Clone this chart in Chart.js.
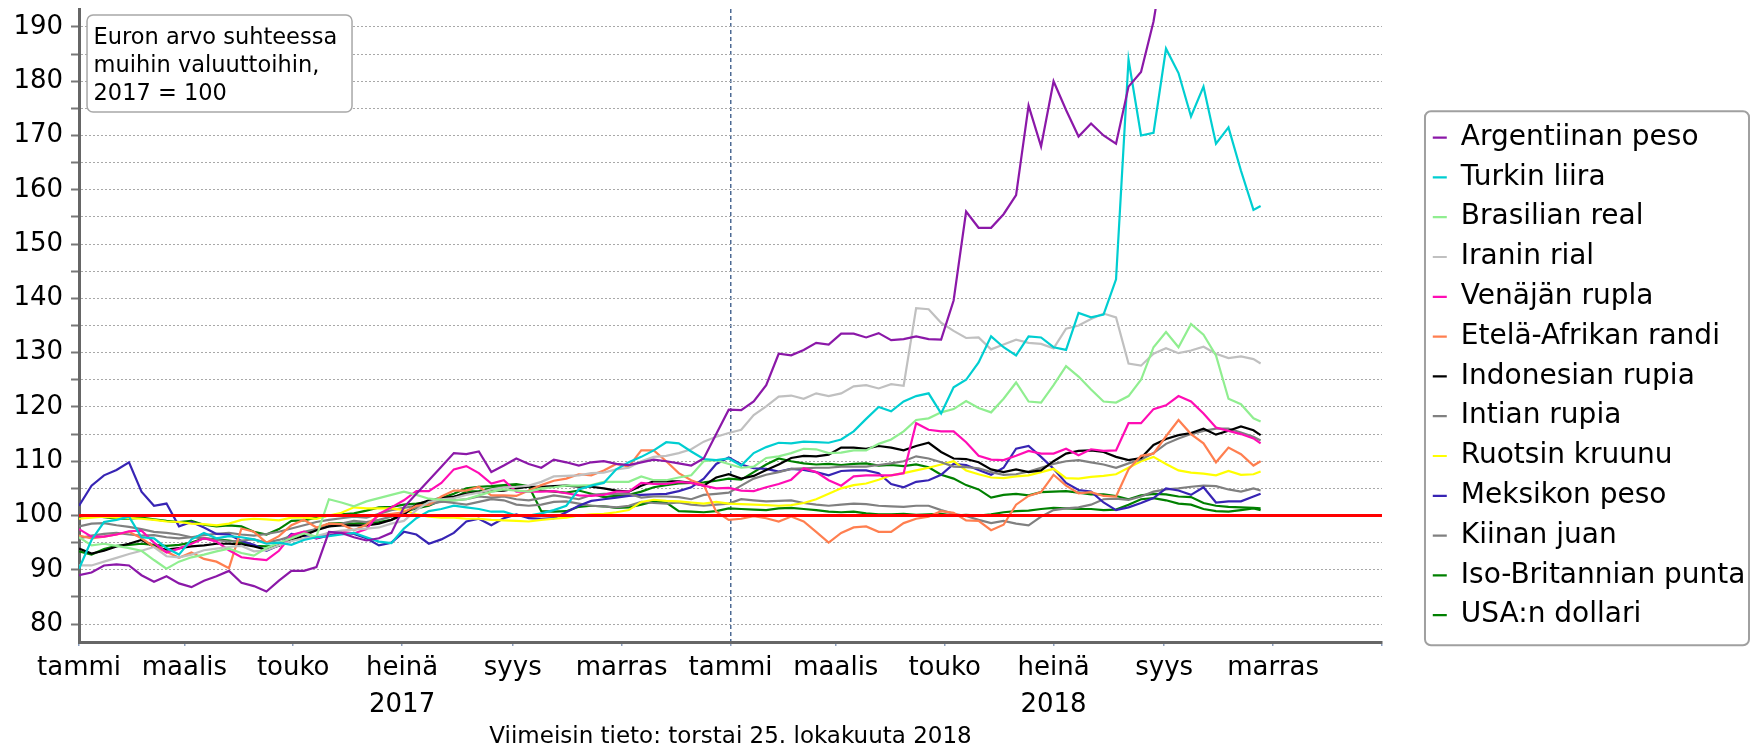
<!DOCTYPE html>
<html lang="fi">
<head>
<meta charset="utf-8">
<title>Euron arvo suhteessa muihin valuuttoihin</title>
<script src="https://cdn.jsdelivr.net/npm/chart.js@4.4.1/dist/chart.umd.min.js"></script>
<style>
  html, body { margin: 0; padding: 0; background: #fff; }
</style>
</head>
<body>
<canvas id="chart" width="1750" height="744"></canvas>
<script>
// Days since 1.1.2017, one reading per week (last one is 25.10.2018)
const days = [0,7,14,21,28,35,42,49,56,63,70,77,84,91,98,105,112,119,126,133,140,147,154,161,168,175,182,189,196,203,210,217,224,231,238,245,252,259,266,273,280,287,294,301,308,315,322,329,336,343,350,357,364,371,378,385,392,399,406,413,420,427,434,441,448,455,462,469,476,483,490,497,504,511,518,525,532,539,546,553,560,567,574,581,588,595,602,609,616,623,630,637,644,651,658,662];

// Index values, 2017 = 100
const ars = [89.0,89.5,90.8,91.0,90.8,89.0,87.8,88.8,87.5,86.8, 88.0,88.8,89.8,87.6,87.0,86.0,88.0,89.8,89.8,90.5, 97.0,96.8,96.0,95.4,95.8,96.8,101.5,104.0,106.5,109.0, 111.5,111.3,111.8,108.0,109.2,110.5,109.5,108.8,110.3,109.8, 109.2,109.8,110.0,109.5,109.3,109.8,110.3,110.0,109.6,109.2, 110.5,115.0,119.5,119.4,121.0,124.0,129.8,129.5,130.5,131.8, 131.5,133.5,133.5,132.8,133.6,132.3,132.5,133.0,132.5,132.4, 139.6,156.0,153.0,153.0,155.5,159.0,175.5,168.0,180.0,174.7, 169.8,172.2,170.0,168.5,179.0,181.7,191.0,205.0,225.0,238.0, 245.0,240.0,236.0,232.0,226.0,224.0];
const tryv = [90.2,95.5,98.8,99.2,99.8,96.0,95.8,94.0,92.8,95.6, 96.8,95.8,96.2,96.0,95.6,94.8,95.0,94.6,95.5,96.0, 96.2,96.5,96.8,96.0,95.2,94.9,97.6,99.5,100.8,101.2, 101.8,101.5,101.2,100.7,100.7,100.0,100.0,100.4,101.0,101.8, 104.8,105.5,106.0,108.5,109.8,110.8,112.0,113.5,113.3,111.8, 110.4,110.2,110.5,109.2,111.5,112.6,113.4,113.3,113.6,113.5, 113.4,114.0,115.5,117.8,120.0,119.2,121.0,122.0,122.5,118.8, 123.6,125.0,128.2,133.0,131.0,129.5,133.0,132.8,131.0,130.5, 137.3,136.5,137.0,143.5,184.0,170.0,170.5,186.0,181.5,173.5, 179.0,168.5,171.5,163.5,156.3,157.0];
const brl = [96.0,94.5,94.8,94.4,94.0,93.5,91.8,90.2,91.5,92.3, 92.8,93.4,93.9,93.1,92.6,94.0,95.0,95.8,96.7,96.1, 103.0,102.4,101.7,102.6,103.2,103.8,104.4,103.8,103.1,102.9, 102.8,103.0,103.7,104.4,104.8,104.6,104.4,105.0,105.2,105.5, 105.5,105.6,106.2,106.2,106.2,107.2,106.5,106.5,107.0,107.4, 110.0,110.2,109.5,108.8,109.0,110.6,110.9,111.5,112.3,112.2, 111.5,111.6,112.0,112.0,113.2,114.0,115.5,117.6,117.9,119.0, 119.6,121.1,119.8,119.0,121.5,124.5,121.0,120.8,124.0,127.5, 125.6,123.2,121.0,120.8,122.0,125.0,131.0,133.8,131.0,135.3, 133.3,129.5,121.5,120.5,117.9,117.3];
const irr = [90.8,90.8,91.5,92.2,92.9,93.5,94.2,92.5,92.3,92.8, 93.6,93.9,94.2,94.4,93.4,93.6,94.5,95.3,95.8,96.2, 96.8,97.2,97.4,97.6,97.8,98.5,99.0,101.0,102.5,103.0, 103.2,103.8,104.2,104.8,105.2,105.3,105.5,106.2,107.2,107.3, 107.4,107.8,107.9,108.5,108.8,110.0,110.8,111.0,111.5,112.2, 113.6,114.5,115.2,115.8,118.5,120.1,121.9,122.1,121.5,122.5, 122.0,122.5,123.8,124.0,123.4,124.2,123.9,138.2,138.0,135.5, 134.0,132.7,132.8,130.6,131.5,132.4,131.8,131.6,130.8,134.4, 135.0,136.2,137.2,136.5,128.0,127.6,129.8,130.8,129.9,130.4, 131.1,129.8,129.0,129.3,128.8,128.0];
const rub = [97.5,96.1,96.1,96.5,97.1,97.2,95.0,93.2,93.9,94.8, 95.8,95.2,93.6,92.3,92.0,91.8,93.5,96.4,97.0,95.8, 96.8,97.0,96.7,97.5,100.3,101.5,102.8,104.5,104.5,106.0, 108.5,109.1,107.8,105.9,106.5,104.4,104.4,104.4,104.5,104.1, 103.7,103.6,103.8,104.4,104.4,106.0,105.8,105.8,106.2,106.0, 105.5,105.0,105.1,104.6,104.5,105.2,105.8,106.6,108.7,108.0, 106.5,105.5,107.2,107.4,107.4,107.4,107.8,117.0,115.8,115.5, 115.5,113.5,111.0,110.3,110.2,111.0,111.9,111.4,111.4,112.3, 111.1,112.2,111.9,112.0,117.0,117.0,119.6,120.3,122.0,121.0, 118.8,116.2,115.6,115.0,114.2,113.3];
const zar = [96.3,95.8,96.1,96.5,97.0,95.8,94.2,93.3,92.2,93.2, 92.0,91.5,90.3,97.6,97.0,95.0,96.2,98.2,99.2,97.8, 98.5,98.4,97.3,98.3,100.0,100.3,100.6,101.8,102.0,103.5, 104.6,104.6,105.3,103.7,103.7,103.6,104.6,105.6,106.4,106.8, 107.6,107.4,108.3,109.5,109.0,112.0,112.0,110.0,107.8,106.5, 105.6,100.7,99.2,99.4,99.9,99.5,98.9,99.8,98.9,97.0, 95.0,96.8,97.8,98.0,97.0,97.0,98.6,99.4,99.8,100.8, 100.5,99.1,99.0,97.3,98.3,102.0,103.6,104.3,107.5,105.5, 104.1,104.3,103.6,103.5,108.5,111.0,111.4,114.6,117.6,115.0, 113.3,109.8,112.5,111.3,109.2,110.0];
const idr = [93.9,93.0,93.5,94.3,94.8,95.5,94.3,93.7,94.0,94.3, 94.5,94.8,94.8,94.7,94.3,93.7,94.5,95.4,96.3,97.3, 98.0,98.2,98.2,98.2,98.5,99.2,100.2,102.0,102.8,103.2, 103.5,104.0,104.3,104.5,104.6,105.0,105.3,105.3,105.4,105.5, 105.3,105.3,105.0,104.6,104.4,105.5,106.3,106.3,106.3,106.0, 105.5,107.0,107.6,106.8,107.3,108.4,109.4,110.6,111.0,110.9, 111.2,112.5,112.5,112.3,112.8,112.5,112.0,112.8,113.4,111.7, 110.5,110.4,109.8,108.5,108.0,108.5,108.0,108.3,110.0,111.4, 111.9,112.0,111.7,110.8,110.2,110.6,113.0,114.1,114.8,115.2, 116.0,114.9,115.6,116.4,115.7,114.8];
const inr = [98.0,98.5,98.6,98.2,97.9,97.5,97.0,96.8,96.5,96.0, 95.8,95.5,95.2,95.4,95.6,95.0,95.5,96.2,97.0,97.5, 98.0,98.5,99.0,98.8,99.2,99.8,100.5,101.5,102.3,102.5, 102.8,103.0,103.5,103.3,103.5,103.0,102.8,103.2,103.7,103.4, 103.0,103.8,104.0,104.0,104.0,103.3,103.5,103.5,103.4,103.0, 103.8,104.0,104.2,105.5,106.8,107.5,108.0,108.6,108.7,108.8, 108.8,109.0,109.0,109.0,109.3,109.6,110.0,110.9,110.5,109.8, 109.0,108.9,108.7,108.0,107.5,107.6,108.1,108.8,109.5,110.0, 110.2,109.8,109.4,108.8,109.6,110.3,111.5,113.2,114.2,115.0, 115.6,116.0,116.0,115.3,114.5,113.8];
const sek = [99.4,99.6,99.8,99.6,99.5,99.4,99.2,98.9,98.8,98.5, 98.4,98.2,98.5,99.2,99.4,99.3,99.1,99.6,99.6,99.4, 100.0,100.5,101.5,101.3,101.3,101.3,101.0,100.2,99.8,99.6, 99.6,99.4,99.4,99.2,99.1,99.0,98.9,99.2,99.4,99.6, 100.0,100.2,100.3,100.6,101.0,102.5,102.9,102.7,102.6,102.4, 102.2,102.5,102.2,102.1,102.0,101.9,101.8,101.9,102.3,103.0, 104.0,105.0,105.6,105.9,106.6,107.4,107.8,108.3,108.8,109.4, 110.0,108.3,107.6,107.0,106.9,107.2,107.4,108.0,108.6,106.9, 106.8,107.1,107.3,107.6,108.8,110.0,110.8,109.5,108.3,107.9, 107.7,107.4,108.2,107.5,107.6,108.1];
const mxn = [101.8,105.5,107.4,108.4,109.8,104.4,101.8,102.2,98.0,98.8, 97.8,96.6,96.5,95.3,94.6,93.5,94.5,96.6,96.3,95.8, 96.3,96.9,96.6,95.8,94.5,95.0,97.0,96.5,94.8,95.6, 96.8,98.9,99.4,98.2,99.5,100.2,99.5,99.4,99.5,100.6, 101.8,102.7,103.0,103.3,103.6,103.8,103.9,104.0,104.5,105.2, 106.8,109.5,110.7,109.4,108.7,108.6,108.1,108.6,108.4,108.0, 107.4,108.2,108.3,108.3,107.8,105.8,105.2,106.2,106.5,107.5, 109.5,109.3,108.4,107.5,108.8,112.3,112.8,110.8,108.6,106.0, 104.7,104.4,102.4,101.0,101.5,102.3,103.2,105.0,104.6,103.8, 105.2,102.4,102.6,102.6,103.5,104.0];
const cny = [95.8,96.3,96.6,96.8,96.5,96.3,96.4,96.0,95.8,96.0, 96.4,96.6,96.8,96.5,96.3,96.6,97.0,97.6,98.2,98.8, 99.2,99.5,99.8,99.6,100.3,101.0,101.4,101.8,102.0,102.6, 102.3,102.0,102.5,103.0,102.8,102.0,101.8,102.0,102.5,102.6, 102.2,101.8,101.7,101.5,101.8,102.5,102.3,102.2,102.4,102.0, 101.8,102.0,102.2,103.0,102.8,102.6,102.7,102.8,102.3,102.0, 101.8,102.0,102.2,102.1,101.8,101.7,101.6,101.8,101.8,101.0, 100.3,99.9,99.2,98.6,99.0,98.5,98.2,99.8,101.0,101.3, 101.5,102.0,103.0,103.1,102.9,103.5,104.4,104.8,105.0,105.3, 105.5,105.4,104.8,104.4,105.0,104.6];
const gbp = [99.8,100.0,99.7,99.4,99.4,99.6,99.3,99.0,98.8,99.0, 98.3,98.0,98.2,98.0,97.0,96.5,97.5,99.0,99.1,99.6, 100.0,100.2,100.4,100.9,101.5,101.6,102.0,102.2,102.5,103.2, 104.0,105.0,105.3,105.4,105.6,105.8,105.4,100.8,100.7,100.8, 101.6,101.8,101.7,101.4,101.5,102.0,102.6,102.4,100.8,100.7, 100.6,100.8,101.3,101.2,101.1,101.0,101.3,101.4,101.2,101.0, 100.7,100.6,100.7,100.4,100.2,100.2,100.3,100.1,100.2,100.3, 100.0,100.1,100.0,100.2,100.6,100.8,100.9,101.2,101.4,101.3, 101.2,101.2,101.0,101.1,102.0,103.0,103.2,102.8,102.2,102.0, 101.2,100.8,100.7,101.0,101.3,101.0];
const usd = [93.4,92.8,93.8,94.4,94.6,94.8,94.6,94.4,94.6,95.0, 95.8,95.6,95.4,95.0,94.4,94.3,94.4,95.8,96.7,97.5, 98.5,98.6,98.5,98.7,98.8,99.2,100.7,101.3,101.8,102.8, 103.3,104.4,104.5,105.0,105.3,105.5,105.3,104.6,104.4,104.2, 104.6,104.0,103.4,103.6,103.8,104.4,105.2,105.6,105.9,106.0, 106.1,106.4,106.8,106.6,108.0,109.4,110.5,110.0,109.6,109.4, 109.5,109.3,109.5,109.6,109.2,109.3,109.1,109.4,108.9,107.5, 106.8,105.6,104.8,103.3,103.8,104.0,103.7,104.3,104.4,104.5, 104.2,103.9,103.9,103.6,103.0,103.7,104.0,103.9,103.5,103.4, 102.3,101.8,101.6,101.5,101.4,101.3];

const names = ['Argentiinan peso', 'Turkin liira', 'Brasilian real', 'Iranin rial', 'Venäjän rupla', 'Etelä-Afrikan randi', 'Indonesian rupia', 'Intian rupia', 'Ruotsin kruunu', 'Meksikon peso', 'Kiinan juan', 'Iso-Britannian punta', 'USA:n dollari'];
const series = [ars, tryv, brl, irr, rub, zar, idr, inr, sek, mxn, cny, gbp, usd];
const colors = ['#8b18a8', '#00ced1', '#90ee90', '#c0c0c0', '#ff0db4', '#ff7f50', '#000000', '#808080', '#ffff00', '#3724b4', '#808080', '#008000', '#008000'];

// 100-level reference line
const baseDays = [0, 730];
const baseValues = [100, 100];

// Axis ticks
const monthDays = [0, 59, 120, 181, 243, 304, 365, 424, 485, 546, 608, 669, 730];
const monthLabels = ['tammi', 'maalis', 'touko', ['heinä', '2017'], 'syys', 'marras', 'tammi', 'maalis', 'touko', ['heinä', '2018'], 'syys', 'marras', ''];
const yTicks = [80, 85, 90, 95, 100, 105, 110, 115, 120, 125, 130, 135, 140, 145, 150, 155, 160, 165, 170, 175, 180, 185, 190];
const noteLines = ['Euron arvo suhteessa', 'muihin valuuttoihin,', '2017 = 100'];

Chart.defaults.font.family = '"DejaVu Sans", Verdana, sans-serif';
Chart.defaults.color = '#000';

// Rounded frame around the legend
const legendFrame = {
  id: 'legendFrame',
  afterDraw(chart) {
    const lg = chart.legend;
    if (!lg || !lg.legendHitBoxes || !lg.legendHitBoxes.length) return;
    const boxes = lg.legendHitBoxes;
    const first = boxes[0];
    const last = boxes[boxes.length - 1];
    const x = lg.left + 4;
    const y = first.top - 12.3;
    const w = chart.width - 1 - x;
    const h = last.top + last.height + 16 - y;
    const ctx = chart.ctx;
    ctx.save();
    ctx.strokeStyle = '#a0a0a0';
    ctx.lineWidth = 2;
    ctx.beginPath();
    ctx.roundRect(x, y, w, h, 6);
    ctx.stroke();
    ctx.restore();
  }
};

// Note box in the top left corner of the plot
const noteBox = {
  id: 'noteBox',
  afterDraw(chart) {
    const {ctx, chartArea} = chart;
    const x = chartArea.left + 8;
    const y = chartArea.top + 6;
    ctx.save();
    ctx.fillStyle = '#fff';
    ctx.strokeStyle = '#a8a8a8';
    ctx.lineWidth = 1.5;
    ctx.beginPath();
    ctx.roundRect(x, y, 265, 97, 6);
    ctx.fill();
    ctx.stroke();
    ctx.fillStyle = '#000';
    ctx.font = '22.5px "DejaVu Sans", Verdana, sans-serif';
    ctx.textBaseline = 'alphabetic';
    noteLines.forEach((line, i) => {
      ctx.fillText(line, x + 6.5, y + 28.5 + i * 28.3);
    });
    ctx.restore();
  }
};

const datasets = series.map((values, i) => ({
  label: names[i],
  data: days.map((d, j) => ({ x: d, y: values[j] })),
  borderColor: colors[i],
  backgroundColor: colors[i],
  borderWidth: 2.2,
  pointRadius: 0,
  tension: 0
}));
datasets.push({
  label: '100',
  data: baseDays.map((d, j) => ({ x: d, y: baseValues[j] })),
  borderColor: '#ff0000',
  borderWidth: 3,
  pointRadius: 0,
  order: -1
});

new Chart(document.getElementById('chart'), {
  type: 'line',
  data: { datasets: datasets },
  options: {
    responsive: false,
    animation: false,
    devicePixelRatio: 1,
    layout: { padding: { top: 9, left: 5.4, right: -5.5, bottom: 0 } },
    plugins: {
      legend: {
        position: 'right',
        align: 'start',
        maxWidth: 400,
        title: { display: true, text: '', font: { size: 12 }, padding: { top: 0, bottom: 88.4 } },
        labels: {
          usePointStyle: true,
          pointStyle: 'line',
          pointStyleWidth: 14,
          padding: 11.8,
          color: '#000',
          font: { size: 28 },
          filter: item => item.datasetIndex < names.length
        }
      },
      tooltip: { enabled: false }
    },
    scales: {
      x: {
        type: 'linear',
        min: 0,
        max: 730,
        afterBuildTicks: scale => { scale.ticks = monthDays.map(v => ({ value: v })); },
        afterFit: scale => { scale.height = 102; },
        ticks: {
          autoSkip: false,
          maxRotation: 0,
          padding: 4,
          color: '#000',
          font: { size: 26, lineHeight: 1.42 },
          callback: (value, index) => monthLabels[index]
        },
        grid: {
          color: ctx => (ctx.tick && (ctx.tick.value === 0 || ctx.tick.value === 365)) ? '#4d6a94' : 'transparent',
          lineWidth: 1.5,
          tickLength: 4,
          tickColor: '#8da0c0'
        },
        border: { display: true, color: '#666', width: 3, dash: [4, 3] },
        title: {
          display: true,
          text: 'Viimeisin tieto: torstai 25. lokakuuta 2018',
          color: '#000',
          font: { size: 23, lineHeight: 1.0 },
          padding: { top: 0, bottom: -5 }
        }
      },
      y: {
        min: 76.7,
        max: 193.3,
        afterBuildTicks: scale => { scale.ticks = yTicks.map(v => ({ value: v })); },
        afterFit: scale => { scale.paddingTop = 0; scale.paddingBottom = 0; },
        ticks: {
          autoSkip: false,
          padding: 8,
          color: '#000',
          font: { size: 26 },
          callback: value => (value % 10 === 0 ? value : '')
        },
        grid: { color: '#a8a8a8', lineWidth: 1, tickLength: 8, tickColor: '#777', tickWidth: 2 },
        border: { display: true, color: '#666', width: 3, dash: [2, 2] }
      },
      // empty axis that keeps a gap between the plot and the legend
      gap: {
        position: 'right',
        grid: { display: false, drawTicks: false },
        ticks: { display: false },
        border: { display: false },
        afterFit: scale => { scale.width = 39; }
      }
    }
  },
  plugins: [legendFrame, noteBox]
});
</script>
</body>
</html>
